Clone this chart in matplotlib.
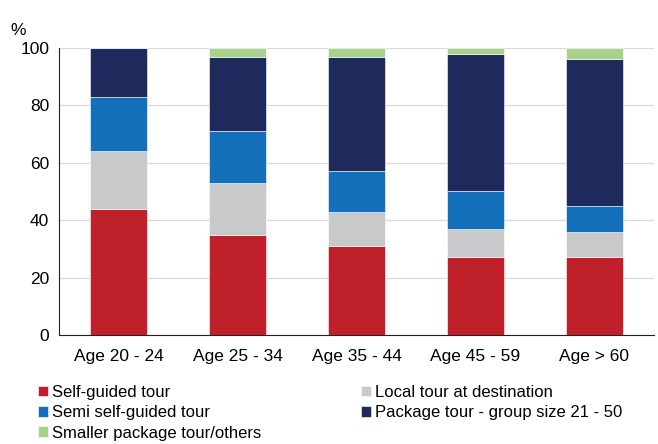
import numpy as np
import matplotlib.pyplot as plt
import matplotlib

matplotlib.rcParams['font.family'] = ['Liberation Sans', 'DejaVu Sans']

# 数据
categories = ["Age 20 - 24", "Age 25 - 34", "Age 35 - 44", "Age 45 - 59", "Age > 60"]
self_guided = [44, 35, 31, 27, 27]
local_tour = [20, 18, 12, 10, 9]
semi_self = [19, 18, 14, 13, 9]
package_tour = [17, 26, 40, 48, 51]
smaller_pkg = [0, 3, 3, 2, 4]

series = [
    ("Self-guided tour", self_guided, "#C0202A"),
    ("Local tour at destination", local_tour, "#C8C9CB"),
    ("Semi self-guided tour", semi_self, "#1470BA"),
    ("Package tour - group size 21 - 50", package_tour, "#1E2A5C"),
    ("Smaller package tour/others", smaller_pkg, "#A9D18E"),
]

fig = plt.figure(figsize=(6.58, 4.44), dpi=100)
ax = fig.add_axes([0.0897, 0.2455, 0.904, 0.6465])

x = np.arange(len(categories))
bottom = np.zeros(len(categories))
handles = {}
for name, vals, color in series:
    b = ax.bar(x, vals, width=0.48, bottom=bottom, color=color,
               edgecolor="white", linewidth=0.4, label=name, zorder=3)
    handles[name] = b
    bottom += np.array(vals)

ax.set_xlim(-0.5, 4.5)
ax.set_ylim(0, 100)
ax.set_yticks(range(0, 101, 20))
ax.yaxis.grid(True, color="#DADADA", linewidth=0.9, zorder=0)
ax.set_xticks(x)
ax.set_xticklabels(categories, fontsize=12.5)
ax.tick_params(axis="y", labelsize=12.5, length=0, pad=7)
ax.tick_params(axis="x", length=0, pad=10)
for s in ["top", "right"]:
    ax.spines[s].set_visible(False)
ax.spines["left"].set_color("#222222")
ax.spines["bottom"].set_color("#222222")
ax.text(-0.082, 1.045, "%", transform=ax.transAxes, fontsize=12.5)

order = ["Self-guided tour", "Semi self-guided tour", "Smaller package tour/others",
         "Local tour at destination", "Package tour - group size 21 - 50"]
fig.legend([handles[n] for n in order], order, loc="upper left",
           bbox_to_anchor=(0.047, 0.148), ncol=2, frameon=False, fontsize=12,
           handlelength=0.6, handleheight=0.6, handletextpad=0.25,
           columnspacing=6.0, labelspacing=0.32, borderaxespad=0)

fig.savefig("out.png", dpi=100)
